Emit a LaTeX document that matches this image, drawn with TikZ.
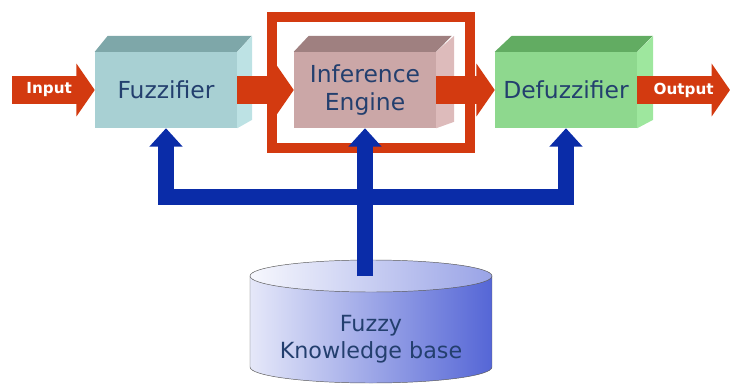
\documentclass[tikz,border=0pt]{standalone}
\usepackage{fontspec}
\setmainfont{DejaVu Sans}
\usepackage{tikz}
\usetikzlibrary{arrows.meta}
\definecolor{fuzzfront}{HTML}{A8D0D3}
\definecolor{fuzztop}{HTML}{7EA7A9}
\definecolor{fuzzside}{HTML}{BDE2E4}
\definecolor{inffront}{HTML}{CBA7A7}
\definecolor{inftop}{HTML}{9F8080}
\definecolor{infside}{HTML}{DDBBBB}
\definecolor{defront}{HTML}{8ED88E}
\definecolor{detop}{HTML}{62AC62}
\definecolor{deside}{HTML}{9EE79E}
\definecolor{flowred}{HTML}{D33A10}
\definecolor{kbblue}{HTML}{0A2CA8}
\definecolor{labelblue}{HTML}{233F6E}
\definecolor{kbfill}{HTML}{5566D6}

\begin{document}
\begin{tikzpicture}[x=0.03cm, y=0.03cm,
	block/.style={minimum width=4.26cm, minimum height=2.28cm, inner sep=0pt, align=center, text=labelblue, font=\fontsize{20}{24}\selectfont},
	flow/.style={color=flowred, line width=0.84cm, -{Triangle[length=0.55cm, width=1.56cm]}},
	kbline/.style={color=kbblue, line width=0.5cm, -{Triangle[length=0.55cm, width=0.96cm]}},
	tag/.style={text=white, font=\bfseries\fontsize{13}{15}\selectfont}]
	\useasboundingbox (0,0) rectangle (731,385);

	\shade[left color=white!85!kbfill, right color=kbfill, draw=black!65] (250,109) -- (250,18) arc[start angle=180, end angle=360, x radius=121, y radius=16] -- (492,109) -- cycle;
	\shade[left color=white!95!kbfill, right color=white!40!kbfill, draw=black!65] (371,109) ellipse [x radius=121, y radius=16];
	\node[align=center, text=labelblue, font=\fontsize{19}{23}\selectfont] (kb) at (371,46) {Fuzzy\\Knowledge base};

	\node[block, fill=fuzzfront] (fuzz) at (166,295) {Fuzzifier};
	\fill[fuzztop] (fuzz.north west) -- ++(13,16) -- ++(144,0) -- (fuzz.north east) -- cycle;
	\fill[fuzzside] (fuzz.north east) -- ++(15,16) -- ++(0,-84) -- (fuzz.south east) -- cycle;

	\node[block, fill=inffront] (inf) at (365,295) {Inference\\Engine};
	\fill[inftop] (inf.north west) -- ++(15,16) -- ++(143,0) -- (inf.north east) -- cycle;
	\fill[infside] (inf.north east) -- ++(18,16) -- ++(0,-86) -- (inf.south east) -- cycle;

	\node[block, fill=defront] (defuzz) at (566,295) {Defuzzifier};
	\fill[detop] (defuzz.north west) -- ++(17,16) -- ++(141,0) -- (defuzz.north east) -- cycle;
	\fill[deside] (defuzz.north east) -- ++(16,16) -- ++(0,-84) -- (defuzz.south east) -- cycle;

	\coordinate (inp) at (12,295);
	\coordinate (outp) at (730,295);
	\path[flow] (inp) edge node[tag, pos=0.45] {Input} (fuzz);
	\path[flow] (fuzz) edge (inf);
	\path[flow] (inf) edge (defuzz);
	\path[flow] (defuzz) edge node[tag] {Output} (outp);

	\node[draw=flowred, line width=0.3cm, minimum width=5.94cm, minimum height=3.93cm] (frame) at (371,302.5) {};

	\coordinate (kbtop) at (365,109);
	\coordinate (hub) at (365,188);
	\draw[kbline] (kbtop) -- (inf.south);
	\draw[kbline] (hub) -| (fuzz.south);
	\draw[kbline] (hub) -| (defuzz.south);
\end{tikzpicture}
\end{document}
